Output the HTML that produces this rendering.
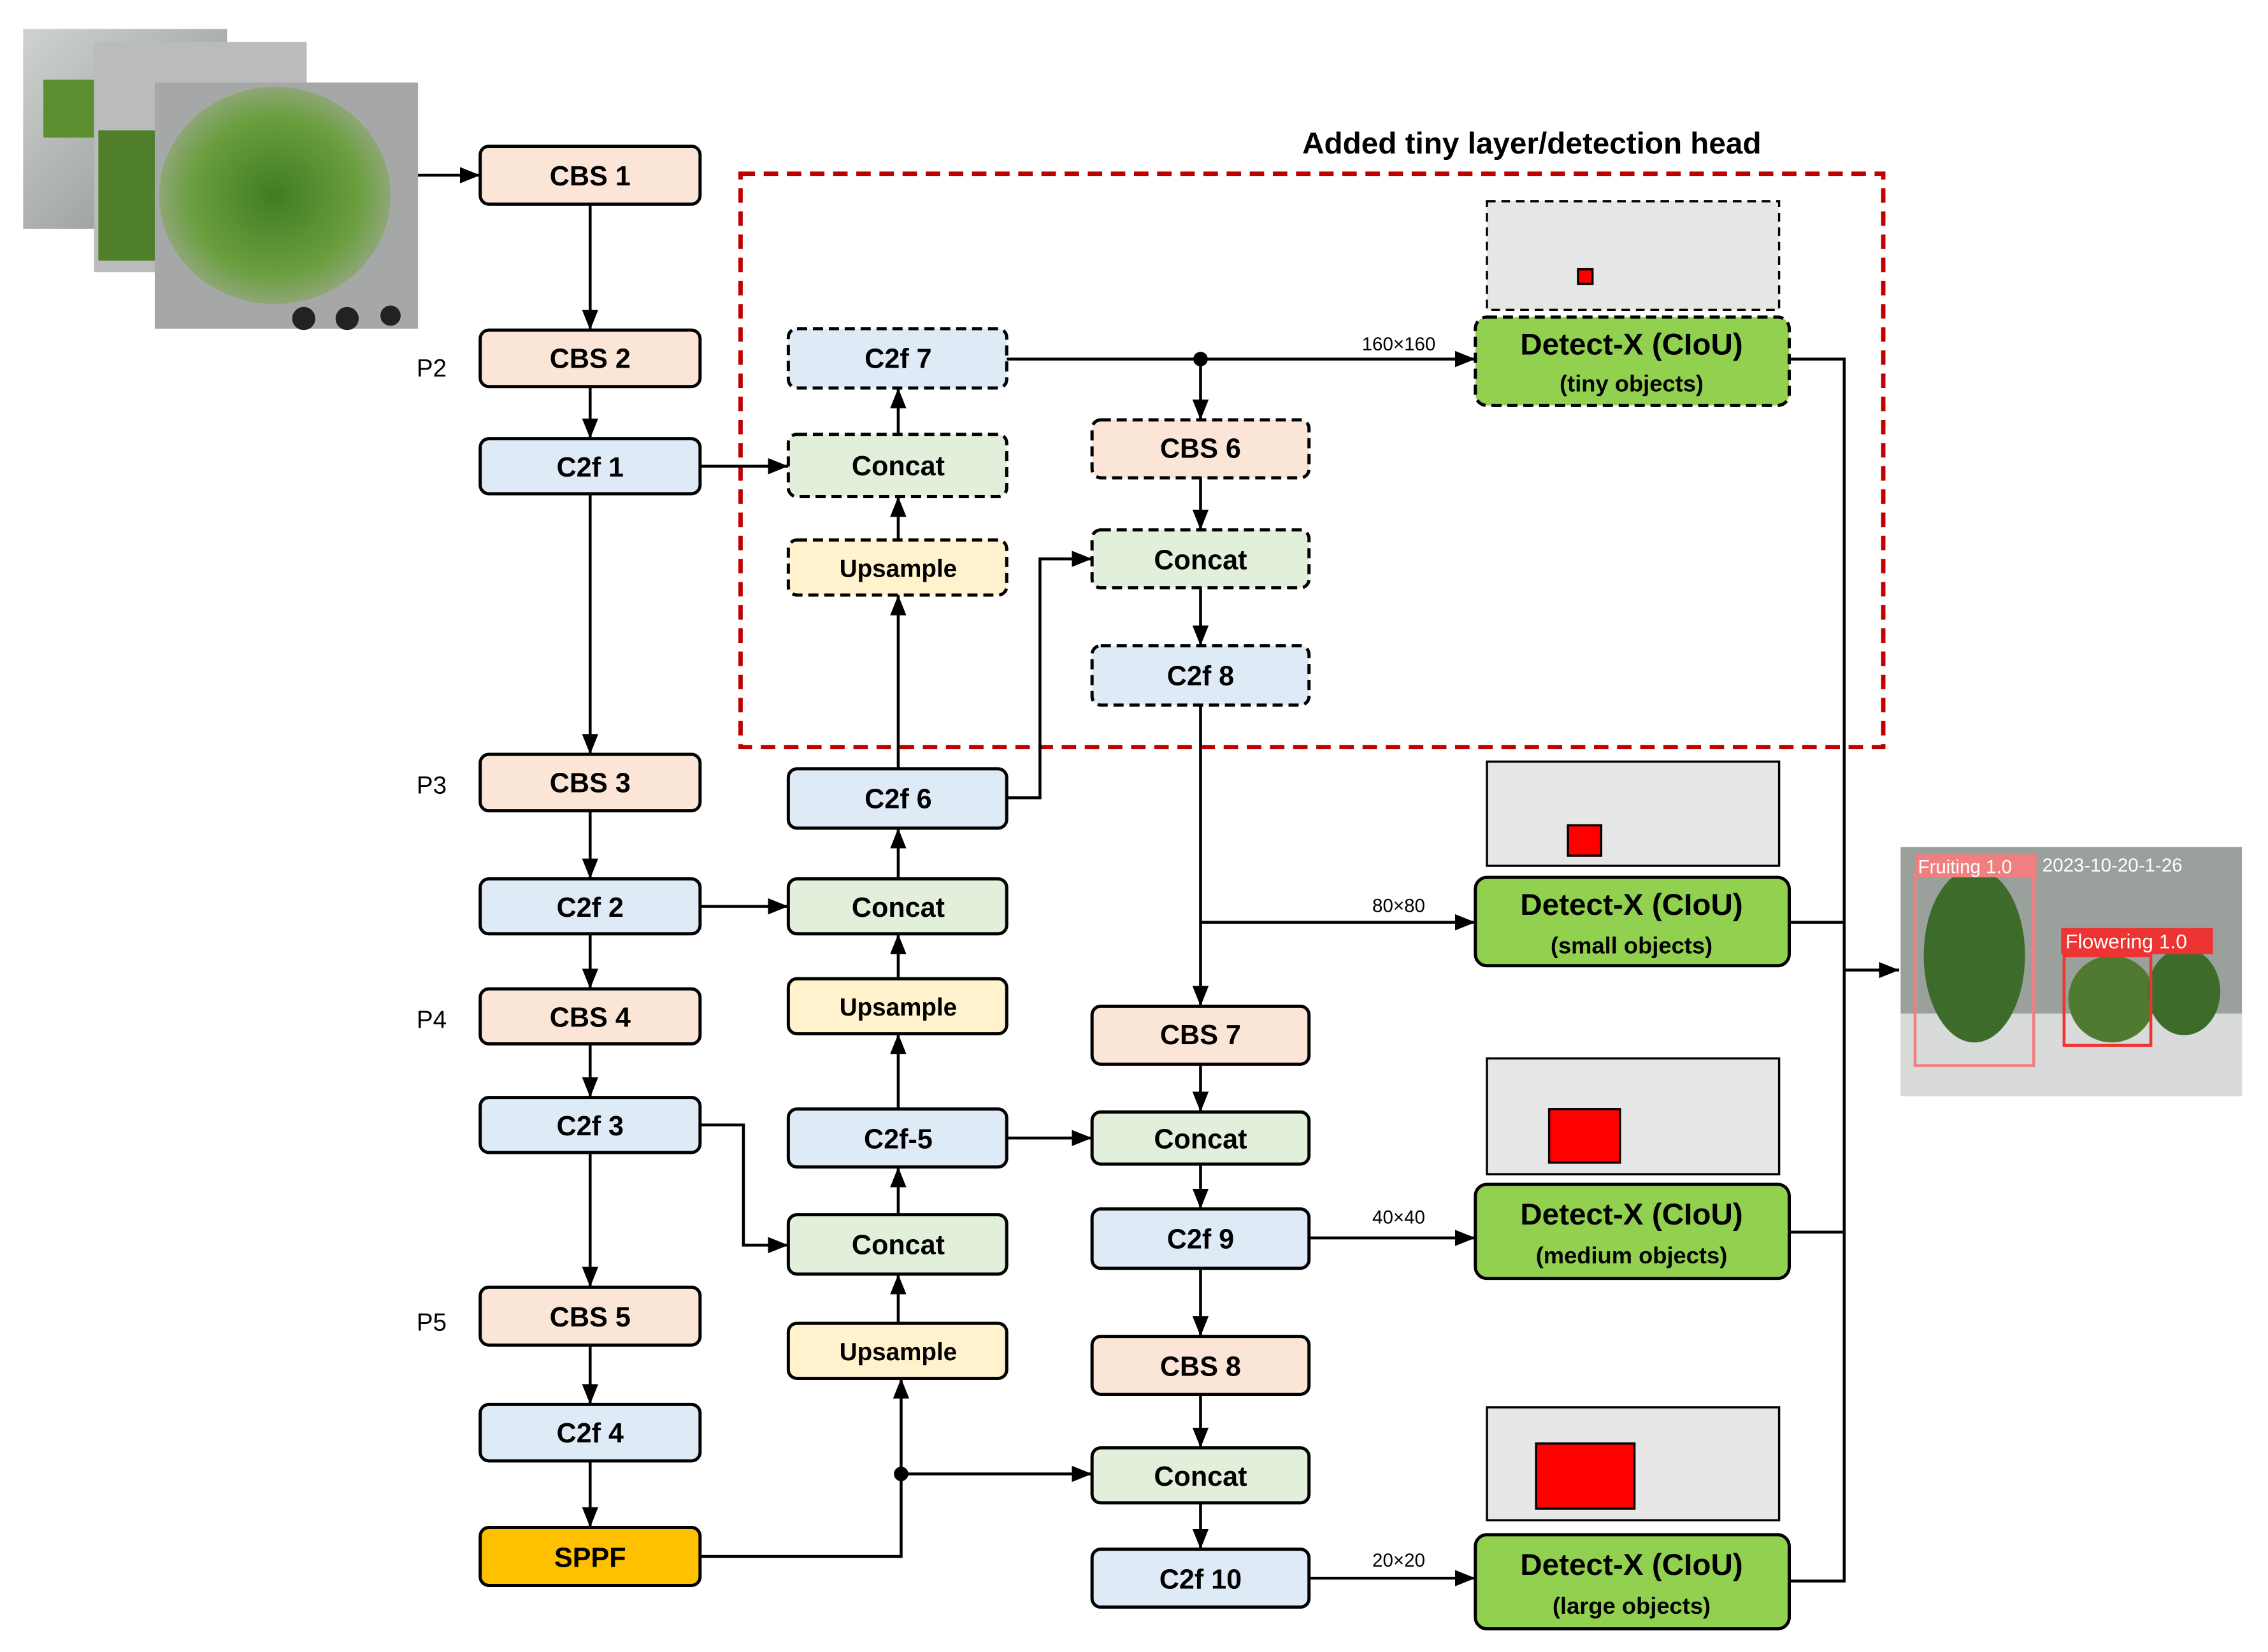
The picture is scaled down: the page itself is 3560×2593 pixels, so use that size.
<!DOCTYPE html>
<html><head><meta charset="utf-8"><style>
html,body{margin:0;padding:0;background:#fff;}
svg{display:block;}
text{font-family:"Liberation Sans",sans-serif;}
.b{font-weight:bold;font-size:19px;text-anchor:middle;dominant-baseline:central;}
.s{font-size:13px;text-anchor:middle;}
</style></head><body>
<svg width="3560" height="2593" viewBox="0 0 1568 1141" preserveAspectRatio="none" xmlns="http://www.w3.org/2000/svg">
<defs>
<marker id="A" viewBox="0 0 10 10" refX="10" refY="5" markerWidth="14" markerHeight="14" orient="auto" markerUnits="userSpaceOnUse"><path d="M0,1 L10,5 L0,9 z" fill="#000"/></marker>
<linearGradient id="g1" x1="0" y1="0" x2="1" y2="1"><stop offset="0" stop-color="#cfd3d0"/><stop offset="1" stop-color="#8a8f8c"/></linearGradient>
<radialGradient id="g2" cx="0.5" cy="0.5" r="0.6"><stop offset="0" stop-color="#3f7d22"/><stop offset="0.6" stop-color="#6a9e3e"/><stop offset="1" stop-color="#a8ad9e"/></radialGradient>
</defs>
<rect width="1568" height="1141" fill="#fff"/>

<rect x="16" y="20" width="141" height="138" fill="url(#g1)"/>
<rect x="30" y="55" width="40" height="40" fill="#5d8e30"/>
<rect x="65" y="29" width="147" height="159" fill="#b9bcbb"/>
<rect x="68" y="90" width="40" height="90" fill="#4f7f2a"/>
<rect x="107" y="57" width="182" height="170" fill="#a5a8a6"/>
<ellipse cx="190" cy="135" rx="80" ry="75" fill="url(#g2)"/>
<circle cx="210" cy="220" r="8" fill="#222"/><circle cx="240" cy="220" r="8" fill="#222"/><circle cx="270" cy="218" r="7" fill="#222"/>

<rect x="1314" y="585" width="236" height="172" fill="#9aa09c"/>
<rect x="1314" y="700" width="236" height="57" fill="#d8dbd9"/>
<ellipse cx="1365" cy="660" rx="35" ry="60" fill="#3d6b2a"/>
<ellipse cx="1460" cy="690" rx="30" ry="30" fill="#4f7a30"/>
<ellipse cx="1510" cy="685" rx="25" ry="30" fill="#3d6b2a"/>
<rect x="1324" y="604" width="82" height="132" fill="none" stroke="#f08080" stroke-width="2"/>
<rect x="1324" y="590" width="84" height="16" fill="#f08080"/>
<text x="1326" y="603" font-size="13" fill="#fff">Fruiting 1.0</text>
<text x="1412" y="602" font-size="13" fill="#fff">2023-10-20-1-26</text>
<rect x="1427" y="660" width="60" height="62" fill="none" stroke="#e33" stroke-width="2"/>
<rect x="1425" y="641" width="105" height="18" fill="#e33"/>
<text x="1428" y="655" font-size="14" fill="#fff">Flowering 1.0</text>

<rect x="512" y="120" width="790" height="396" fill="none" stroke="#c00000" stroke-width="3" stroke-dasharray="10,6"/>
<text x="1059" y="106" font-size="21" font-weight="bold" text-anchor="middle">Added tiny layer/detection head</text>

<rect x="1028" y="139" width="202" height="75" fill="#e6e6e6" stroke="#000" stroke-width="1.5" stroke-dasharray="6,4"/>
<rect x="1091" y="186" width="10" height="10" fill="#f00" stroke="#000" stroke-width="1.5"/>
<rect x="1028" y="526" width="202" height="72" fill="#e6e6e6" stroke="#000" stroke-width="1.5"/>
<rect x="1084" y="570" width="23" height="21" fill="#f00" stroke="#000" stroke-width="1.5"/>
<rect x="1028" y="731" width="202" height="80" fill="#e6e6e6" stroke="#000" stroke-width="1.5"/>
<rect x="1071" y="766" width="49" height="37" fill="#f00" stroke="#000" stroke-width="1.5"/>
<rect x="1028" y="972" width="202" height="78" fill="#e6e6e6" stroke="#000" stroke-width="1.5"/>
<rect x="1062" y="997" width="68" height="45" fill="#f00" stroke="#000" stroke-width="1.5"/>

<g stroke="#000" stroke-width="2" fill="none">
<line x1="289" y1="121" x2="332" y2="121" marker-end="url(#A)"/>
<line x1="408" y1="141" x2="408" y2="228" marker-end="url(#A)"/>
<line x1="408" y1="267" x2="408" y2="303" marker-end="url(#A)"/>
<line x1="408" y1="341" x2="408" y2="521" marker-end="url(#A)"/>
<line x1="484" y1="322" x2="545" y2="322" marker-end="url(#A)"/>
<line x1="408" y1="560" x2="408" y2="607" marker-end="url(#A)"/>
<line x1="408" y1="645" x2="408" y2="683" marker-end="url(#A)"/>
<line x1="408" y1="721" x2="408" y2="758" marker-end="url(#A)"/>
<line x1="408" y1="796" x2="408" y2="889" marker-end="url(#A)"/>
<line x1="408" y1="929" x2="408" y2="970" marker-end="url(#A)"/>
<line x1="408" y1="1009" x2="408" y2="1055" marker-end="url(#A)"/>
<line x1="484" y1="626" x2="545" y2="626" marker-end="url(#A)"/>
<polyline points="484,777 514,777 514,860 545,860" marker-end="url(#A)"/>
<polyline points="484,1075 623,1075 623,952" marker-end="url(#A)"/>
<line x1="623" y1="1018" x2="755" y2="1018" marker-end="url(#A)"/>
<line x1="621" y1="914" x2="621" y2="880" marker-end="url(#A)"/>
<line x1="621" y1="839" x2="621" y2="806" marker-end="url(#A)"/>
<line x1="621" y1="766" x2="621" y2="714" marker-end="url(#A)"/>
<line x1="621" y1="676" x2="621" y2="645" marker-end="url(#A)"/>
<line x1="621" y1="607" x2="621" y2="572" marker-end="url(#A)"/>
<line x1="621" y1="531" x2="621" y2="411" marker-end="url(#A)"/>
<line x1="621" y1="373" x2="621" y2="343" marker-end="url(#A)"/>
<line x1="621" y1="300" x2="621" y2="268" marker-end="url(#A)"/>
<line x1="696" y1="786" x2="755" y2="786" marker-end="url(#A)"/>
<polyline points="696,551 719,551 719,386 755,386" marker-end="url(#A)"/>
<line x1="696" y1="248" x2="1020" y2="248" marker-end="url(#A)"/>
<line x1="830" y1="248" x2="830" y2="290" marker-end="url(#A)"/>
<line x1="830" y1="330" x2="830" y2="366" marker-end="url(#A)"/>
<line x1="830" y1="406" x2="830" y2="446" marker-end="url(#A)"/>
<line x1="830" y1="487" x2="830" y2="695" marker-end="url(#A)"/>
<line x1="830" y1="637" x2="1020" y2="637" marker-end="url(#A)"/>
<line x1="830" y1="735" x2="830" y2="768" marker-end="url(#A)"/>
<line x1="830" y1="804" x2="830" y2="835" marker-end="url(#A)"/>
<line x1="830" y1="876" x2="830" y2="923" marker-end="url(#A)"/>
<line x1="830" y1="963" x2="830" y2="1000" marker-end="url(#A)"/>
<line x1="830" y1="1038" x2="830" y2="1070" marker-end="url(#A)"/>
<line x1="905" y1="855" x2="1020" y2="855" marker-end="url(#A)"/>
<line x1="905" y1="1090" x2="1020" y2="1090" marker-end="url(#A)"/>
<polyline points="1237,248 1275,248 1275,1092 1237,1092"/>
<line x1="1237" y1="637" x2="1275" y2="637"/>
<line x1="1237" y1="851" x2="1275" y2="851"/>
<line x1="1275" y1="670" x2="1313" y2="670" marker-end="url(#A)"/>
</g>
<circle cx="830" cy="248" r="5"/>
<circle cx="623" cy="1018" r="5"/>

<text class="s" x="967" y="242">160×160</text>
<text class="s" x="967" y="630">80×80</text>
<text class="s" x="967" y="845">40×40</text>
<text class="s" x="967" y="1082">20×20</text>
<g font-size="17"><text x="288" y="260">P2</text><text x="288" y="548">P3</text><text x="288" y="710">P4</text><text x="288" y="919">P5</text></g>

<g stroke="#000" stroke-width="2.2">
<rect x="332" y="101" width="152" height="40" rx="6" fill="#fbe5d6"/>
<rect x="332" y="228" width="152" height="39" rx="6" fill="#fbe5d6"/>
<rect x="332" y="303" width="152" height="38" rx="6" fill="#deebf7"/>
<rect x="332" y="521" width="152" height="39" rx="6" fill="#fbe5d6"/>
<rect x="332" y="607" width="152" height="38" rx="6" fill="#deebf7"/>
<rect x="332" y="683" width="152" height="38" rx="6" fill="#fbe5d6"/>
<rect x="332" y="758" width="152" height="38" rx="6" fill="#deebf7"/>
<rect x="332" y="889" width="152" height="40" rx="6" fill="#fbe5d6"/>
<rect x="332" y="970" width="152" height="39" rx="6" fill="#deebf7"/>
<rect x="332" y="1055" width="152" height="40" rx="6" fill="#ffc000"/>
<g stroke-dasharray="7,4">
<rect x="545" y="227" width="151" height="41" rx="6" fill="#deebf7"/>
<rect x="545" y="300" width="151" height="43" rx="6" fill="#e2efda"/>
<rect x="545" y="373" width="151" height="38" rx="6" fill="#fff2cc"/>
<rect x="755" y="290" width="150" height="40" rx="6" fill="#fbe5d6"/>
<rect x="755" y="366" width="150" height="40" rx="6" fill="#e2efda"/>
<rect x="755" y="446" width="150" height="41" rx="6" fill="#deebf7"/>
<rect x="1020" y="219" width="217" height="61" rx="8" fill="#92d050"/>
</g>
<rect x="545" y="531" width="151" height="41" rx="6" fill="#deebf7"/>
<rect x="545" y="607" width="151" height="38" rx="6" fill="#e2efda"/>
<rect x="545" y="676" width="151" height="38" rx="6" fill="#fff2cc"/>
<rect x="545" y="766" width="151" height="40" rx="6" fill="#deebf7"/>
<rect x="545" y="839" width="151" height="41" rx="6" fill="#e2efda"/>
<rect x="545" y="914" width="151" height="38" rx="6" fill="#fff2cc"/>
<rect x="755" y="695" width="150" height="40" rx="6" fill="#fbe5d6"/>
<rect x="755" y="768" width="150" height="36" rx="6" fill="#e2efda"/>
<rect x="755" y="835" width="150" height="41" rx="6" fill="#deebf7"/>
<rect x="755" y="923" width="150" height="40" rx="6" fill="#fbe5d6"/>
<rect x="755" y="1000" width="150" height="38" rx="6" fill="#e2efda"/>
<rect x="755" y="1070" width="150" height="40" rx="6" fill="#deebf7"/>
<rect x="1020" y="606" width="217" height="61" rx="8" fill="#92d050"/>
<rect x="1020" y="818" width="217" height="65" rx="8" fill="#92d050"/>
<rect x="1020" y="1060" width="217" height="65" rx="8" fill="#92d050"/>
</g>

<g class="b">
<text class="b" x="408" y="122">CBS 1</text>
<text class="b" x="408" y="248">CBS 2</text>
<text class="b" x="408" y="323">C2f 1</text>
<text class="b" x="408" y="541">CBS 3</text>
<text class="b" x="408" y="627">C2f 2</text>
<text class="b" x="408" y="703">CBS 4</text>
<text class="b" x="408" y="778">C2f 3</text>
<text class="b" x="408" y="910">CBS 5</text>
<text class="b" x="408" y="990">C2f 4</text>
<text class="b" x="408" y="1076">SPPF</text>
<text class="b" x="621" y="248">C2f 7</text>
<text class="b" x="621" y="322">Concat</text>
<text class="b" x="621" y="393" style="font-size:17px">Upsample</text>
<text class="b" x="621" y="552">C2f 6</text>
<text class="b" x="621" y="627">Concat</text>
<text class="b" x="621" y="696" style="font-size:17px">Upsample</text>
<text class="b" x="621" y="787">C2f-5</text>
<text class="b" x="621" y="860">Concat</text>
<text class="b" x="621" y="934" style="font-size:17px">Upsample</text>
<text class="b" x="830" y="310">CBS 6</text>
<text class="b" x="830" y="387">Concat</text>
<text class="b" x="830" y="467">C2f 8</text>
<text class="b" x="830" y="715">CBS 7</text>
<text class="b" x="830" y="787">Concat</text>
<text class="b" x="830" y="856">C2f 9</text>
<text class="b" x="830" y="944">CBS 8</text>
<text class="b" x="830" y="1020">Concat</text>
<text class="b" x="830" y="1091">C2f 10</text>
<text class="b" x="1128" y="238" style="font-size:21px">Detect-X (CIoU)</text>
<text class="b" x="1128" y="265" style="font-size:16px">(tiny objects)</text>
<text class="b" x="1128" y="625" style="font-size:21px">Detect-X (CIoU)</text>
<text class="b" x="1128" y="653" style="font-size:16px">(small objects)</text>
<text class="b" x="1128" y="839" style="font-size:21px">Detect-X (CIoU)</text>
<text class="b" x="1128" y="867" style="font-size:16px">(medium objects)</text>
<text class="b" x="1128" y="1081" style="font-size:21px">Detect-X (CIoU)</text>
<text class="b" x="1128" y="1109" style="font-size:16px">(large objects)</text>
</g>
</svg>
</body></html>
